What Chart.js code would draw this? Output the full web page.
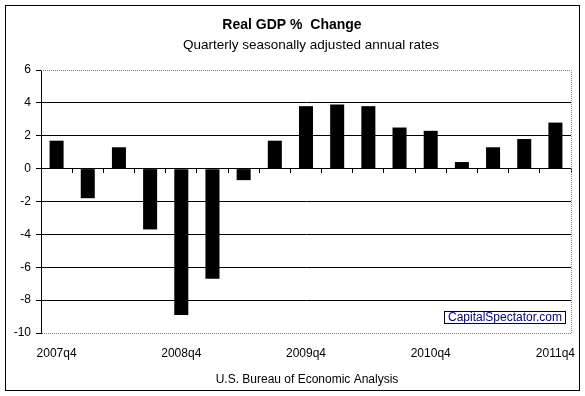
<!DOCTYPE html>
<html>
<head>
<meta charset="utf-8">
<script src="https://cdn.jsdelivr.net/npm/chart.js@4/dist/chart.umd.min.js"></script>
<style>
    body { margin: 0; background: #fff; }
    canvas { display: block; }
</style>
</head>
<body>
<canvas id="gdpChart" width="585" height="396"></canvas>
<script>
const quarters = ['2007q4', '2008q1', '2008q2', '2008q3', '2008q4', '2009q1', '2009q2', '2009q3',
    '2009q4', '2010q1', '2010q2', '2010q3', '2010q4', '2011q1', '2011q2', '2011q3', '2011q4'];
const gdpChange = [1.7, -1.8, 1.3, -3.7, -8.9, -6.7, -0.7, 1.7, 3.8, 3.9, 3.8, 2.5, 2.3, 0.4, 1.3, 1.8, 2.8];
const yMin = -10;
const yMax = 6;
const yStep = 2;
const labelEvery = 4;

const titleText = 'Real GDP %  Change';
const subtitleText = 'Quarterly seasonally adjusted annual rates';
const sourceText = 'U.S. Bureau of Economic Analysis';
const watermarkText = 'CapitalSpectator.com';

const font = '"Liberation Sans", Arial, sans-serif';

// frame, plot border, titles and the little watermark box
const decorations = {
    id: 'decorations',
    beforeDraw(chart) {
        const c = chart.ctx;
        c.save();
        c.fillStyle = '#fff';
        c.fillRect(0, 0, chart.width, chart.height);
        c.restore();
    },
    afterDraw(chart) {
        const c = chart.ctx;
        const area = chart.chartArea;
        c.save();
        c.strokeStyle = '#000';
        c.lineWidth = 1;
        c.strokeRect(5.5, 5.5, 574, 385);

        c.strokeStyle = '#808080';
        c.setLineDash([1, 1]);
        c.beginPath();
        c.moveTo(area.left, area.top + 0.5);
        c.lineTo(area.right + 0.5, area.top + 0.5);
        c.lineTo(area.right + 0.5, area.bottom + 0.5);
        c.lineTo(area.left + 1, area.bottom + 0.5);
        c.stroke();
        c.setLineDash([]);

        c.fillStyle = '#000';
        c.textAlign = 'center';
        c.textBaseline = 'middle';
        c.font = 'bold 14px ' + font;
        c.fillText(titleText, 292, 25);
        c.font = '13.5px ' + font;
        c.fillText(subtitleText, 311, 45);
        c.font = '12px ' + font;
        c.fillText(sourceText, 307, 380);

        c.strokeStyle = '#000033';
        c.strokeRect(444.5, 311.5, 121, 12);
        c.fillStyle = '#000080';
        c.font = '12px ' + font;
        c.fillText(watermarkText, 505, 318);
        c.restore();
    }
};

new Chart(document.getElementById('gdpChart'), {
    type: 'bar',
    data: {
        labels: quarters,
        datasets: [{
            label: 'Real GDP % Change',
            data: gdpChange,
            backgroundColor: '#000',
            borderWidth: 0,
            barPercentage: 0.45,
            categoryPercentage: 1
        }]
    },
    options: {
        responsive: false,
        animation: false,
        events: [],
        layout: { padding: { top: 70, right: 14, left: 0, bottom: 0 } },
        plugins: {
            legend: { display: false },
            tooltip: { enabled: false }
        },
        scales: {
            x: {
                position: 'bottom',
                grid: { display: false },
                border: { display: false },
                ticks: {
                    autoSkip: false,
                    maxRotation: 0,
                    padding: 5,
                    color: '#000',
                    font: { family: font, size: 12 },
                    callback: (value, index) => index % labelEvery === 0 ? quarters[index] : ''
                },
                afterFit: (scale) => { scale.height = 63; }
            },
            zero: {
                axis: 'x',
                type: 'category',
                labels: quarters,
                position: { y: 0 },
                grid: {
                    offset: true,
                    drawOnChartArea: false,
                    drawTicks: true,
                    tickLength: 4,
                    tickColor: '#000'
                },
                border: { display: true, color: '#000', width: 1 },
                ticks: { display: false }
            },
            y: {
                min: yMin,
                max: yMax,
                grid: {
                    color: (ctx) => (ctx.tick && (ctx.tick.value === yMax || ctx.tick.value === yMin)) ? 'rgba(0,0,0,0)' : '#000',
                    tickColor: '#000',
                    tickLength: 5
                },
                border: { display: true, color: '#000', width: 1 },
                ticks: {
                    stepSize: yStep,
                    padding: 5,
                    color: '#000',
                    font: { family: font, size: 12 }
                },
                afterFit: (scale) => { scale.width = 41; }
            }
        }
    },
    plugins: [decorations]
});
</script>
</body>
</html>
